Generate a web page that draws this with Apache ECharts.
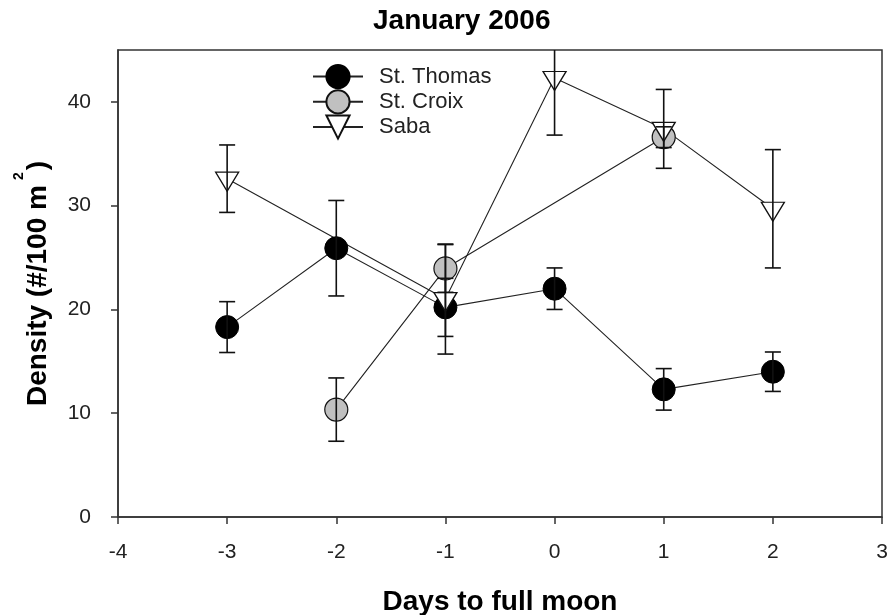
<!DOCTYPE html>
<html>
<head>
<meta charset="utf-8">
<script src="https://cdn.jsdelivr.net/npm/echarts@6/dist/echarts.min.js"></script>
<style>
  html, body { margin: 0; padding: 0; background: #fff; }
  #chart { width: 894px; height: 615px; }
</style>
</head>
<body>
<div id="chart"></div>
<script>
// Days relative to the full moon
const days = [-3, -2, -1, 0, 1, 2];

// Mean density (#/100 m^2) and standard error per site; null = not sampled
const stThomas   = [18.3, 25.9, 20.2, 22.0, 12.3, 14.0];
const stThomasSE = [2.45, 4.6, 2.8, 2.0, 2.0, 1.9];
const stCroix    = [null, 10.35, 23.95, null, 36.6, null];
const stCroixSE  = [null, 3.05, 2.3, null, 1.0, null];
const saba       = [32.6, null, 21.0, 42.3, 37.4, 29.7];
const sabaSE     = [3.25, null, 5.3, 5.5, 3.8, 5.7];

const xTicks = [-4, -3, -2, -1, 0, 1, 2, 3];
const yTicks = [0, 10, 20, 30, 40];

const FONT = '"Liberation Sans", Arial, sans-serif';

function points(vals) {
  const out = [];
  vals.forEach((v, i) => { if (v !== null) out.push([days[i], v]); });
  return out;
}
function bars(vals, se) {
  const out = [];
  vals.forEach((v, i) => { if (v !== null) out.push([days[i], v - se[i], v + se[i]]); });
  return out;
}

// Vertical error bar with caps, clipped to the plotting area
function renderErrorBar(params, api) {
  const cs = params.coordSys;
  const x = api.value(0);
  const lo = api.coord([x, api.value(1)]);
  const hi = api.coord([x, api.value(2)]);
  const top = cs.y, bottom = cs.y + cs.height;
  const yHi = Math.max(hi[1], top);
  const yLo = Math.min(lo[1], bottom);
  const half = 8;
  const style = { stroke: '#111', lineWidth: 1.6 };
  const children = [
    { type: 'line', shape: { x1: lo[0], y1: yLo, x2: lo[0], y2: yHi }, style }
  ];
  if (hi[1] >= top) children.push({ type: 'line', shape: { x1: hi[0] - half, y1: hi[1], x2: hi[0] + half, y2: hi[1] }, style });
  if (lo[1] <= bottom) children.push({ type: 'line', shape: { x1: lo[0] - half, y1: lo[1], x2: lo[0] + half, y2: lo[1] }, style });
  return { type: 'group', children };
}

const lineStyle = { color: '#222', width: 1.1 };

const chart = echarts.init(document.getElementById('chart'), null, { renderer: 'canvas' });

chart.setOption({
  backgroundColor: '#fff',
  animation: false,
  title: {
    text: 'January 2006',
    left: 373, top: 7, padding: 0,
    textStyle: { fontFamily: FONT, fontSize: 28, fontWeight: 'bold', color: '#000' }
  },
  grid: {
    left: 118, right: 12, top: 50, bottom: 98,
    outerBoundsMode: 'none',
    containLabel: false,
    show: true, borderColor: '#333', borderWidth: 1.5, backgroundColor: '#fff'
  },
  legend: {
    orient: 'vertical',
    left: 312, top: 64, padding: 0,
    itemWidth: 50, itemHeight: 29, itemGap: 0,
    selectedMode: false,
    textStyle: { fontFamily: FONT, fontSize: 22, color: '#222', padding: [0, 0, 0, 11] },
    data: ['St. Thomas', 'St. Croix', 'Saba']
  },
  xAxis: {
    type: 'value', min: -4, max: 3, interval: 1,
    name: 'Days to full moon', nameLocation: 'middle', nameGap: 71,
    nameMoveOverlap: false,
    nameTextStyle: { fontFamily: FONT, fontSize: 28, fontWeight: 'bold', color: '#000' },
    axisLine: { onZero: false, lineStyle: { color: '#333', width: 1.5 } },
    axisTick: { show: true, length: 7, lineStyle: { color: '#333', width: 1.5 } },
    axisLabel: {
      fontFamily: FONT, fontSize: 21, color: '#222', margin: 25,
      customValues: xTicks
    },
    splitLine: { show: false }
  },
  yAxis: {
    type: 'value', min: 0, max: 45, interval: 10,
    name: '{a|Density (#/100 m}{s|2}{a|)}',
    nameLocation: 'middle', nameGap: 53, nameRotate: 90,
    nameMoveOverlap: false,
    nameTextStyle: {
      fontFamily: FONT, color: '#000',
      rich: {
        a: { fontFamily: FONT, fontSize: 28, fontWeight: 'bold', color: '#000', lineHeight: 53 },
        s: { fontFamily: FONT, fontSize: 14, fontWeight: 'bold', color: '#000', lineHeight: 14, padding: [0, 2, 0, 5], verticalAlign: 'top' }
      }
    },
    axisLine: { onZero: false, lineStyle: { color: '#333', width: 1.5 } },
    axisTick: { show: true, length: 7, lineStyle: { color: '#333', width: 1.5 }, customValues: yTicks },
    axisLabel: {
      fontFamily: FONT, fontSize: 21, color: '#222', margin: 27,
      customValues: yTicks
    },
    splitLine: { show: false }
  },
  series: [
    {
      name: 'St. Thomas', type: 'line', data: points(stThomas), connectNulls: true,
      symbol: 'circle', symbolSize: 23,
      itemStyle: { color: '#000', borderColor: '#000', borderWidth: 1 },
      lineStyle, z: 2
    },
    {
      name: 'St. Croix', type: 'line', data: points(stCroix), connectNulls: true,
      symbol: 'circle', symbolSize: 23,
      itemStyle: { color: '#c0c0c0', borderColor: '#111', borderWidth: 1.2 },
      lineStyle, z: 2
    },
    {
      name: 'Saba', type: 'line', data: points(saba), connectNulls: true,
      symbol: 'triangle', symbolSize: [23, 19], symbolRotate: 180, symbolOffset: [0, 3],
      itemStyle: { color: '#fff', borderColor: '#111', borderWidth: 1.3 },
      lineStyle, z: 2
    },
    { type: 'custom', renderItem: renderErrorBar, data: bars(stThomas, stThomasSE), encode: { x: 0, y: [1, 2] }, z: 4, silent: true },
    { type: 'custom', renderItem: renderErrorBar, data: bars(stCroix, stCroixSE), encode: { x: 0, y: [1, 2] }, z: 4, silent: true },
    { type: 'custom', renderItem: renderErrorBar, data: bars(saba, sabaSE), encode: { x: 0, y: [1, 2] }, z: 4, silent: true }
  ]
});
</script>
</body>
</html>
